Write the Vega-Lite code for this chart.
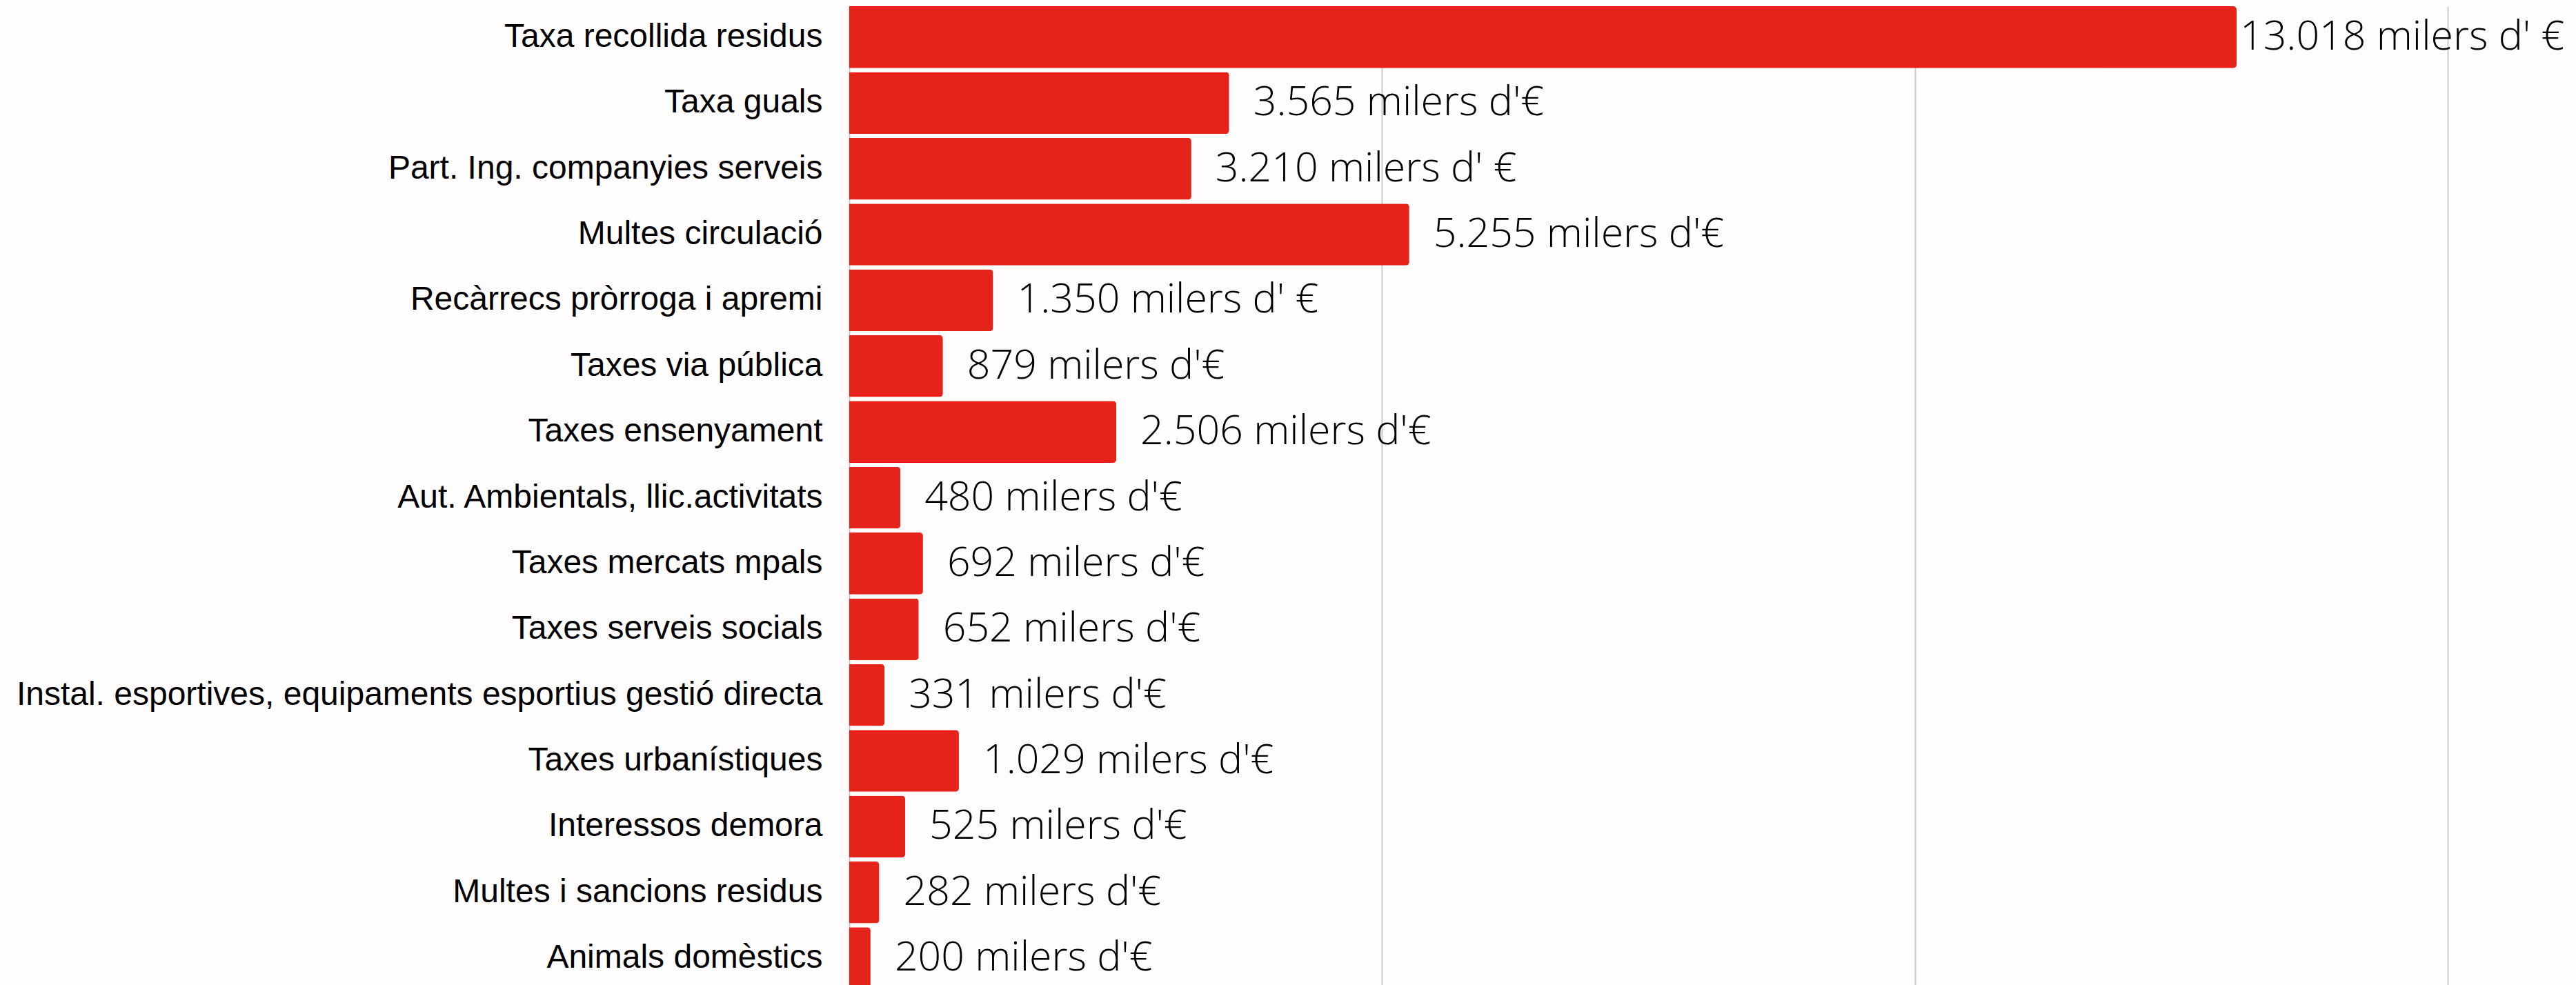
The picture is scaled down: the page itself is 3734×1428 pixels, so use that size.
{
  "$schema": "https://vega.github.io/schema/vega-lite/v6.json",
  "autosize": "none",
  "padding": {"left": 1231, "top": 9, "right": 0, "bottom": 0},
  "width": 2503,
  "height": 1425,
  "background": "#fffdfd",
  "config": {"view": {"stroke": null}},
  "data": {
    "values": [
      {"cat": "Taxa recollida residus", "value": 13018, "label": "13.018 milers d' €"},
      {"cat": "Taxa guals", "value": 3565, "label": "3.565 milers d'€"},
      {"cat": "Part. Ing. companyies serveis", "value": 3210, "label": "3.210 milers d' €"},
      {"cat": "Multes circulació", "value": 5255, "label": "5.255 milers d'€"},
      {"cat": "Recàrrecs pròrroga i apremi", "value": 1350, "label": "1.350 milers d' €"},
      {"cat": "Taxes via pública", "value": 879, "label": "879 milers d'€"},
      {"cat": "Taxes ensenyament", "value": 2506, "label": "2.506 milers d'€"},
      {"cat": "Aut. Ambientals, llic.activitats", "value": 480, "label": "480 milers d'€"},
      {"cat": "Taxes mercats mpals", "value": 692, "label": "692 milers d'€"},
      {"cat": "Taxes serveis socials", "value": 652, "label": "652 milers d'€"},
      {"cat": "Instal. esportives, equipaments esportius gestió directa", "value": 331, "label": "331 milers d'€"},
      {"cat": "Taxes urbanístiques", "value": 1029, "label": "1.029 milers d'€"},
      {"cat": "Interessos demora", "value": 525, "label": "525 milers d'€"},
      {"cat": "Multes i sancions residus", "value": 282, "label": "282 milers d'€"},
      {"cat": "Animals domèstics", "value": 200, "label": "200 milers d'€"}
    ]
  },
  "encoding": {
    "y": {
      "field": "cat",
      "type": "nominal",
      "sort": null,
      "scale": {"paddingInner": 0.06, "paddingOuter": 0},
      "axis": {
        "title": null,
        "ticks": false,
        "domain": true,
        "domainColor": "#cccccc",
        "domainWidth": 2,
        "labelFont": "Liberation Sans",
        "labelFontSize": 48,
        "labelColor": "#000000",
        "labelPadding": 39,
        "labelLimit": 1300
      }
    },
    "x": {
      "field": "value",
      "type": "quantitative",
      "scale": {"domain": [0, 16203], "nice": false},
      "axis": {
        "title": null,
        "labels": false,
        "ticks": false,
        "domain": false,
        "grid": true,
        "gridColor": "#cccccc",
        "gridWidth": 2,
        "values": [5000, 10000, 15000]
      }
    }
  },
  "layer": [
    {
      "mark": {"type": "bar", "color": "#e6231b", "cornerRadiusEnd": 5}
    },
    {
      "mark": {
        "type": "text",
        "align": "left",
        "baseline": "middle",
        "dx": {"expr": "datum.value > 10000 ? 5 : 35"},
        "font": "Open Sans",
        "fontWeight": 300,
        "fontSize": 59,
        "color": "#000000"
      },
      "encoding": {"text": {"field": "label"}}
    }
  ]
}
